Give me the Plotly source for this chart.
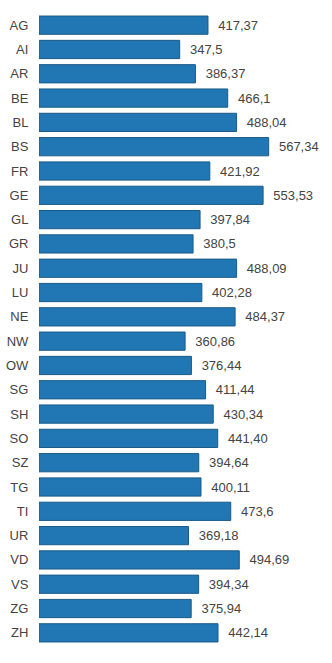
import plotly.graph_objects as go

cantons = ["AG", "AI", "AR", "BE", "BL", "BS", "FR", "GE", "GL", "GR", "JU", "LU", "NE",
           "NW", "OW", "SG", "SH", "SO", "SZ", "TG", "TI", "UR", "VD", "VS", "ZG", "ZH"]
values = [417.37, 347.5, 386.37, 466.1, 488.04, 567.34, 421.92, 553.53, 397.84, 380.5,
          488.09, 402.28, 484.37, 360.86, 376.44, 411.44, 430.34, 441.40, 394.64, 400.11,
          473.6, 369.18, 494.69, 394.34, 375.94, 442.14]
labels = ["417,37", "347,5", "386,37", "466,1", "488,04", "567,34", "421,92", "553,53",
          "397,84", "380,5", "488,09", "402,28", "484,37", "360,86", "376,44", "411,44",
          "430,34", "441,40", "394,64", "400,11", "473,6", "369,18", "494,69", "394,34",
          "375,94", "442,14"]

fig = go.Figure(go.Bar(
    x=values, y=cantons, orientation="h",
    text=["  " + t for t in labels], textposition="outside",
    textfont=dict(family="Arial, Liberation Sans, sans-serif", size=13, color="#444"),
    marker=dict(color="#2177b4", line=dict(color="#1a5a88", width=1)),
    cliponaxis=False,
))
fig.update_layout(
    width=332, height=663,
    margin=dict(l=39, r=10, t=13, b=18),
    plot_bgcolor="white", paper_bgcolor="white",
    bargap=0.25, showlegend=False,
    font=dict(family="Arial, Liberation Sans, sans-serif", size=13, color="#444"),
)
fig.update_xaxes(range=[0, 699], visible=False, fixedrange=True, automargin=False)
fig.update_yaxes(autorange="reversed", showgrid=False, showline=False, zeroline=False,
                 ticks="outside", ticklen=7, tickcolor="rgba(0,0,0,0)", automargin=False,
                 tickfont=dict(size=13, color="#444"), fixedrange=True)
fig.write_html("out.html", config={"displayModeBar": False})
